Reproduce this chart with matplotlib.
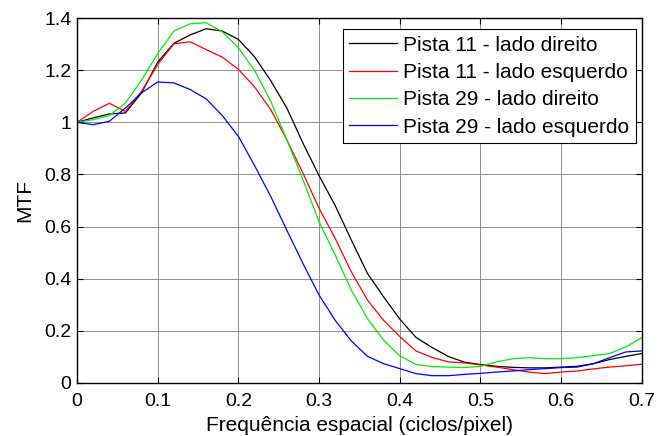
import matplotlib
matplotlib.use("Agg")
import matplotlib.pyplot as plt
import numpy as np

freq = [0.00, 0.02, 0.04, 0.06, 0.08, 0.10, 0.12, 0.14, 0.16, 0.18, 0.20, 0.22,
        0.24, 0.26, 0.28, 0.30, 0.32, 0.34, 0.36, 0.38, 0.40, 0.42, 0.44, 0.46,
        0.48, 0.50, 0.52, 0.54, 0.56, 0.58, 0.60, 0.62, 0.64, 0.66, 0.68, 0.70]

p11_direito = [1.000, 1.017, 1.032, 1.036, 1.113, 1.231, 1.303, 1.335, 1.359, 1.350, 1.318, 1.251,
               1.160, 1.055, 0.920, 0.795, 0.680, 0.548, 0.420, 0.330, 0.245, 0.175, 0.136, 0.102,
               0.080, 0.071, 0.064, 0.060, 0.058, 0.058, 0.061, 0.064, 0.074, 0.090, 0.102, 0.113]
p11_esquerdo = [1.000, 1.042, 1.073, 1.042, 1.119, 1.222, 1.301, 1.309, 1.279, 1.250, 1.203, 1.136,
                1.049, 0.933, 0.805, 0.670, 0.554, 0.426, 0.318, 0.240, 0.178, 0.123, 0.098, 0.081,
                0.077, 0.069, 0.061, 0.051, 0.042, 0.036, 0.042, 0.046, 0.054, 0.061, 0.066, 0.072]
p29_direito = [1.000, 1.010, 1.026, 1.074, 1.162, 1.264, 1.350, 1.378, 1.382, 1.347, 1.286, 1.199,
               1.081, 0.933, 0.780, 0.618, 0.490, 0.356, 0.247, 0.164, 0.104, 0.071, 0.063, 0.061,
               0.059, 0.064, 0.081, 0.093, 0.097, 0.093, 0.093, 0.097, 0.105, 0.113, 0.138, 0.174]
p29_esquerdo = [1.000, 0.991, 1.004, 1.055, 1.113, 1.155, 1.151, 1.126, 1.090, 1.026, 0.946, 0.834,
                0.716, 0.586, 0.458, 0.337, 0.240, 0.161, 0.102, 0.074, 0.055, 0.036, 0.028, 0.028,
                0.033, 0.037, 0.042, 0.046, 0.051, 0.055, 0.059, 0.061, 0.074, 0.097, 0.119, 0.123]

labels = ["Pista 11 - lado direito", "Pista 11 - lado esquerdo",
          "Pista 29 - lado direito", "Pista 29 - lado esquerdo"]
colors = ["#000000", "#ff0000", "#00ee00", "#0000ff"]

xticks = [0, 0.1, 0.2, 0.3, 0.4, 0.5, 0.6, 0.7]
xticklabels = ["0", "0.1", "0.2", "0.3", "0.4", "0.5", "0.6", "0.7"]
yticks = [0, 0.2, 0.4, 0.6, 0.8, 1.0, 1.2, 1.4]
yticklabels = ["0", "0.2", "0.4", "0.6", "0.8", "1", "1.2", "1.4"]

plt.rcParams['font.family'] = ['Liberation Sans', 'DejaVu Sans']
fig = plt.figure(figsize=(6.7, 4.36), dpi=100)
ax = fig.add_axes([0.115, 0.1216, 0.843, 0.837])

for ys, lab, c in zip([p11_direito, p11_esquerdo, p29_direito, p29_esquerdo], labels, colors):
    ax.plot(freq, ys, color=c, linewidth=0.9, label=lab)

ax.set_xlim(0, 0.7)
ax.set_ylim(0, 1.4)
ax.set_xticks(xticks)
ax.set_xticklabels(xticklabels)
ax.set_yticks(yticks)
ax.set_yticklabels(yticklabels)
ax.tick_params(direction='in', top=True, right=True, labelsize=14, length=4, width=0.8)
ax.tick_params(axis='x', pad=7.5)
ax.tick_params(axis='y', pad=4)
ax.grid(True, color='0.5', linestyle='-', linewidth=0.6)
for s in ax.spines.values():
    s.set_linewidth(1.0)
ax.set_xlabel("Frequência espacial (ciclos/pixel)", fontsize=15, labelpad=4)
ax.set_ylabel("MTF", fontsize=15, labelpad=7.5)

leg = ax.legend(loc='upper right', bbox_to_anchor=(0.9894, 0.969), fontsize=15,
                fancybox=False, framealpha=1, edgecolor='black', borderpad=0.3,
                labelspacing=0.40, handlelength=2.3, handletextpad=0.3,
                borderaxespad=0.0)
leg.get_frame().set_linewidth(0.8)

fig.savefig("out.png", dpi=100)
